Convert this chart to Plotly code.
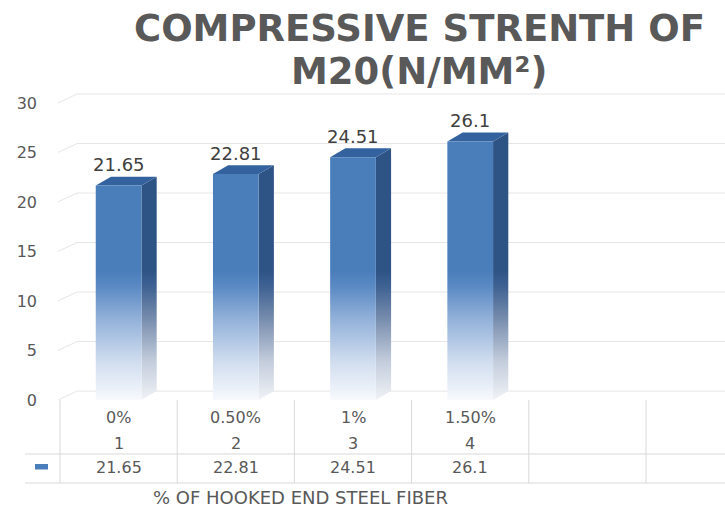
import plotly.graph_objects as go

# ---------------- data ----------------
pct_labels = ["0%", "0.50%", "1%", "1.50%"]
index_labels = ["1", "2", "3", "4"]
strength = [21.65, 22.81, 24.51, 26.1]
y_ticks = [0, 5, 10, 15, 20, 25, 30]
title_lines = ["COMPRESSIVE STRENTH OF", "M20(N/MM²)"]
x_title = "% OF HOOKED END STEEL FIBER"

# ---------------- geometry / style ----------------
W, H = 725, 508
ML, MR, MT, MB = 60, 0, 93, 108
PW, PH = W - ML - MR, H - MT - MB
X0, X1 = -0.5, 5.174          # 6 category slots, last one cut off
Y0, Y1 = 0, 31
BW, DX, DY = 0.39, 0.13, 0.9  # bar width, 3D depth offsets (data units)
FONT = "DejaVu Sans"
GREY = "#595959"
FRONT = "#4a7ebb"
SIDE = "#2e5486"
TOP = "#34629e"
GRID = "#e6e6e6"
TLINE = "#d9d9d9"


def px(xv):   # data x -> paper x
    return (xv - X0) / (X1 - X0)


def py(yv):   # data y -> paper y
    return (yv - Y0) / (Y1 - Y0)


def pp(pix_y):  # pixel y -> paper y
    return (H - MB - pix_y) / PH


fig = go.Figure()

front_scale = [[0, "#f7f9fd"], [0.3, "#d0ddef"], [0.65, "#8eaed8"], [0.88, "#5b8ac4"], [1, FRONT]]
side_scale = [[0, "#f0f2f6"], [0.3, "#c3cddc"], [0.65, "#7389ab"], [0.88, "#3f6293"], [1, SIDE]]

for i, v in enumerate(strength):
    xl, xr = i - BW / 2, i + BW / 2
    # side face
    fig.add_trace(go.Scatter(
        x=[xr, xr + DX, xr + DX, xr, xr], y=[0, DY, v + DY, v, 0],
        fill="toself", mode="lines", line=dict(width=0),
        fillgradient=dict(type="vertical", colorscale=side_scale, start=0, stop=13),
        hoverinfo="skip", showlegend=False))
    # top face
    fig.add_trace(go.Scatter(
        x=[xl, xr, xr + DX, xl + DX, xl], y=[v, v, v + DY, v + DY, v],
        fill="toself", mode="lines", line=dict(width=0), fillcolor=TOP,
        hoverinfo="skip", showlegend=False))
    # front face
    fig.add_trace(go.Scatter(
        x=[xl, xr, xr, xl, xl], y=[0, 0, v, v, 0],
        fill="toself", mode="lines", line=dict(width=0),
        fillgradient=dict(type="vertical", colorscale=front_scale, start=0, stop=13),
        hoverinfo="skip", showlegend=False))

shapes = []
# back-wall gridlines + side-wall slants
gx0 = 17 / PW
for t in y_ticks:
    shapes.append(dict(type="line", xref="paper", yref="paper",
                       x0=gx0, x1=1, y0=py(t + DY), y1=py(t + DY),
                       line=dict(color=GRID, width=1), layer="below"))
    shapes.append(dict(type="line", xref="paper", yref="paper",
                       x0=-2 / PW, x1=gx0, y0=py(t), y1=py(t + DY),
                       line=dict(color=GRID, width=1), layer="below"))

# data table lines
for k in range(-1, len(pct_labels) + 1):
    xb = px(k + 0.5)
    shapes.append(dict(type="line", xref="paper", yref="paper",
                       x0=xb, x1=xb, y0=pp(400), y1=pp(483),
                       line=dict(color=TLINE, width=1)))
for yl in (454, 483):
    shapes.append(dict(type="line", xref="paper", yref="paper",
                       x0=-35 / PW, x1=1, y0=pp(yl), y1=pp(yl),
                       line=dict(color=TLINE, width=1)))
# legend key
shapes.append(dict(type="rect", xref="paper", yref="paper",
                   x0=-25 / PW, x1=-12 / PW, y0=pp(464), y1=pp(469.5),
                   fillcolor=FRONT, line=dict(width=0)))

ann = []
for i, v in enumerate(strength):
    ann.append(dict(x=i, y=v, xref="x", yref="y", text=f"{v:g}",
                    showarrow=False, yanchor="middle", yshift=21,
                    font=dict(family=FONT, size=18, color="#404040")))
    ann.append(dict(x=i, y=pp(417), xref="x", yref="paper", text=pct_labels[i],
                    showarrow=False, yanchor="middle",
                    font=dict(family=FONT, size=16, color=GREY)))
    ann.append(dict(x=i, y=pp(443), xref="x", yref="paper", text=index_labels[i],
                    showarrow=False, yanchor="middle",
                    font=dict(family=FONT, size=16, color=GREY)))
    ann.append(dict(x=i, y=pp(467), xref="x", yref="paper", text=f"{v:g}",
                    showarrow=False, yanchor="middle",
                    font=dict(family=FONT, size=16, color=GREY)))
ann.append(dict(x=(300 - ML) / PW, y=pp(497), xref="paper", yref="paper",
                text=x_title, showarrow=False, yanchor="middle",
                font=dict(family=FONT, size=18, color=GREY)))
# two-line chart title
for line, yc in zip(title_lines, (29, 71.5)):
    ann.append(dict(x=(419 - ML) / PW, y=pp(yc), xref="paper", yref="paper",
                    text=f"<b>{line}</b>", showarrow=False,
                    xanchor="center", yanchor="middle",
                    font=dict(family=FONT, size=37, color=GREY)))

fig.update_layout(
    width=W, height=H,
    margin=dict(l=ML, r=MR, t=MT, b=MB),
    paper_bgcolor="white", plot_bgcolor="white",
    xaxis=dict(range=[X0, X1], visible=False, fixedrange=True),
    yaxis=dict(range=[Y0, Y1], tickvals=y_ticks, showgrid=False, zeroline=False,
               showline=False, ticklabelstandoff=22,
               tickfont=dict(family=FONT, size=16, color=GREY), fixedrange=True),
    shapes=shapes, annotations=ann,
    showlegend=False,
)

fig.write_html("out.html")
